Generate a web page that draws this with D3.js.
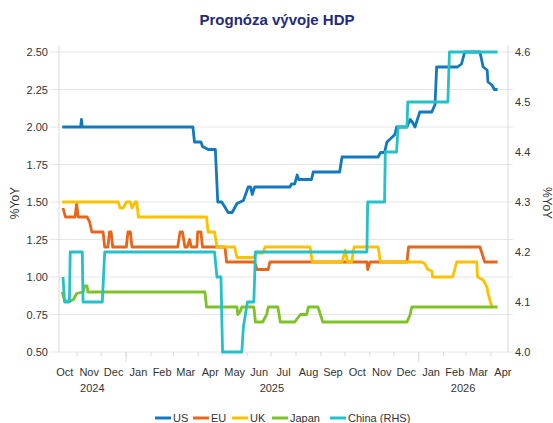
<html>
<head>
<meta charset="utf-8">
<title>Prognóza vývoje HDP</title>
<script src="https://d3js.org/d3.v7.min.js"></script>
<style>
	body { margin: 0; background: #fff; }
	svg { font-family: "Liberation Sans", Arial, sans-serif; }
	.axis path { display: none; }
	.axis line { stroke: #d9d9d9; }
	.axis text { fill: #333; font-size: 11px; }
</style>
</head>
<body>
<div id="chart"></div>
<script type="text/javascript">
// series: [date, value]
var us = [
	["2024-10-14",2.00],["2024-11-06",2.00],["2024-11-07",2.05],["2024-11-08",2.00],
	["2025-03-26",2.00],["2025-03-28",1.90],["2025-04-05",1.90],["2025-04-07",1.87],
	["2025-04-14",1.85],["2025-04-23",1.85],["2025-04-26",1.50],["2025-05-01",1.50],
	["2025-05-09",1.43],["2025-05-14",1.43],["2025-05-20",1.49],["2025-05-28",1.51],
	["2025-06-03",1.60],["2025-06-06",1.60],["2025-06-08",1.55],["2025-06-11",1.60],
	["2025-07-25",1.60],["2025-07-27",1.62],["2025-07-31",1.62],["2025-08-03",1.68],
	["2025-08-05",1.65],["2025-08-21",1.65],["2025-08-23",1.70],["2025-09-25",1.70],
	["2025-09-28",1.80],["2025-11-12",1.80],["2025-11-15",1.83],["2025-11-20",1.83],
	["2025-11-23",1.90],["2025-11-29",1.93],["2025-12-03",1.95],["2025-12-05",2.00],
	["2025-12-18",2.00],["2025-12-22",2.05],["2025-12-25",2.03],["2025-12-28",2.00],
	["2026-01-03",2.10],["2026-01-18",2.10],["2026-01-22",2.15],["2026-01-24",2.40],
	["2026-02-19",2.40],["2026-02-24",2.42],["2026-02-28",2.50],["2026-03-19",2.50],
	["2026-03-23",2.40],["2026-03-28",2.38],["2026-03-29",2.30],["2026-04-03",2.28],
	["2026-04-06",2.25],["2026-04-10",2.25]
];
var eu = [
	["2024-10-15",1.46],["2024-10-18",1.40],["2024-10-30",1.40],["2024-11-01",1.49],
	["2024-11-03",1.40],["2024-11-14",1.40],["2024-11-17",1.37],["2024-11-20",1.30],
	["2024-12-04",1.30],["2024-12-06",1.20],["2024-12-10",1.20],["2024-12-12",1.30],
	["2024-12-14",1.30],["2024-12-16",1.20],["2025-01-02",1.20],["2025-01-04",1.30],
	["2025-01-07",1.30],["2025-01-09",1.20],["2025-03-07",1.20],["2025-03-10",1.30],
	["2025-03-13",1.30],["2025-03-16",1.20],["2025-03-19",1.20],["2025-03-22",1.25],
	["2025-03-24",1.20],["2025-03-31",1.20],["2025-04-01",1.30],["2025-04-05",1.30],
	["2025-04-07",1.20],["2025-05-05",1.20],["2025-05-07",1.10],["2025-06-11",1.10],
	["2025-06-14",1.05],["2025-06-28",1.05],["2025-06-30",1.10],["2025-10-29",1.10],
	["2025-10-30",1.05],["2025-11-02",1.10],["2025-12-18",1.10],["2025-12-20",1.20],
	["2026-03-19",1.20],["2026-03-22",1.15],["2026-03-25",1.10],["2026-04-10",1.10]
];
var uk = [
	["2024-10-14",1.50],["2024-12-23",1.50],["2024-12-25",1.46],["2024-12-29",1.46],
	["2025-01-02",1.50],["2025-01-07",1.50],["2025-01-09",1.46],["2025-01-13",1.50],
	["2025-01-15",1.50],["2025-01-17",1.40],["2025-04-12",1.40],["2025-04-14",1.30],
	["2025-04-22",1.30],["2025-04-25",1.20],["2025-05-17",1.20],["2025-05-20",1.13],
	["2025-06-10",1.13],["2025-06-13",1.16],["2025-06-21",1.16],["2025-06-24",1.20],
	["2025-08-19",1.20],["2025-08-22",1.10],["2025-09-28",1.10],["2025-10-02",1.18],
	["2025-10-05",1.10],["2025-10-10",1.10],["2025-10-13",1.20],["2025-11-12",1.20],
	["2025-11-15",1.10],["2026-01-05",1.10],["2026-01-09",1.09],["2026-01-13",1.05],
	["2026-01-18",1.04],["2026-01-19",1.00],["2026-02-13",1.00],["2026-02-18",1.10],
	["2026-03-15",1.10],["2026-03-16",1.00],["2026-03-23",0.98],["2026-03-28",0.93],
	["2026-03-29",0.89],["2026-04-03",0.80]
];
var japan = [
	["2024-10-14",0.90],["2024-10-17",0.84],["2024-10-24",0.84],["2024-10-28",0.85],
	["2024-11-01",0.89],["2024-11-09",0.90],["2024-11-11",0.94],["2024-11-14",0.94],
	["2024-11-15",0.90],["2025-04-10",0.90],["2025-04-12",0.80],["2025-05-20",0.80],
	["2025-05-21",0.75],["2025-05-24",0.77],["2025-05-26",0.80],["2025-06-10",0.80],
	["2025-06-12",0.70],["2025-06-21",0.70],["2025-06-26",0.75],["2025-06-28",0.80],
	["2025-07-10",0.80],["2025-07-13",0.70],["2025-07-31",0.70],["2025-08-07",0.75],
	["2025-08-15",0.75],["2025-08-17",0.80],["2025-08-29",0.80],["2025-09-01",0.75],
	["2025-09-04",0.70],["2025-12-18",0.70],["2025-12-22",0.75],["2025-12-24",0.80],
	["2026-04-10",0.80]
];
// China on the right-hand scale
var china = [
	["2024-10-15",4.15],["2024-10-17",4.10],["2024-10-23",4.10],["2024-10-24",4.20],
	["2024-11-08",4.20],["2024-11-09",4.10],["2024-12-03",4.10],["2024-12-06",4.20],
	["2025-04-22",4.20],["2025-04-25",4.15],["2025-04-30",4.15],["2025-05-02",4.00],
	["2025-05-26",4.00],["2025-05-28",4.05],["2025-06-02",4.10],["2025-06-10",4.10],
	["2025-06-12",4.20],["2025-10-29",4.20],["2025-10-30",4.30],["2025-11-20",4.30],
	["2025-11-21",4.40],["2025-12-05",4.40],["2025-12-07",4.45],["2025-12-18",4.45],
	["2025-12-19",4.50],["2026-02-07",4.50],["2026-02-09",4.60],["2026-04-10",4.60]
];

var leftTicks = [0.50, 0.75, 1.00, 1.25, 1.50, 1.75, 2.00, 2.25, 2.50];
var rightTicks = [4.0, 4.1, 4.2, 4.3, 4.4, 4.5, 4.6];
var seriesNames = ["US", "EU", "UK", "Japan", "China (RHS)"];
var seriesColors = ["#1279c0", "#e8661c", "#ffc000", "#7dc226", "#22c2c8"];

var parse = d3.timeParse("%Y-%m-%d");
var width = 553, height = 423;
var pLeft = 59, pRight = 508, pTop = 52, pBottom = 352;

var svg = d3.select("#chart").append("svg")
	.attr("width", width)
	.attr("height", height);

var x = d3.scaleTime()
	.domain([parse("2024-10-10"), parse("2026-04-23")])
	.range([pLeft, pRight]);
var yL = d3.scaleLinear().domain([0.5, 2.5]).range([pBottom, pTop]);
var yR = d3.scaleLinear().domain([4.0, 4.6]).range([pBottom, pTop]);

// title
svg.append("text")
	.attr("x", 277).attr("y", 25)
	.attr("text-anchor", "middle")
	.style("font-size", "15px")
	.style("font-weight", "bold")
	.style("fill", "#1f2a80")
	.text("Prognóza vývoje HDP");

// gridlines
svg.append("g").selectAll("line")
	.data(leftTicks)
	.enter().append("line")
	.attr("x1", 50).attr("x2", 513)
	.attr("y1", function(d) { return yL(d); })
	.attr("y2", function(d) { return yL(d); })
	.style("stroke", "#e6e6e6");

// vertical axis lines
svg.append("line").attr("x1", pLeft).attr("x2", pLeft).attr("y1", 45).attr("y2", pBottom)
	.style("stroke", "#d9d9d9");
svg.append("line").attr("x1", pRight).attr("x2", pRight).attr("y1", 45).attr("y2", pBottom)
	.style("stroke", "#d9d9d9");

svg.append("g").attr("class", "axis")
	.attr("transform", "translate(" + pLeft + ",0)")
	.call(d3.axisLeft(yL).tickValues(leftTicks).tickFormat(d3.format(".2f")).tickSize(0).tickPadding(11));

svg.append("g").attr("class", "axis")
	.attr("transform", "translate(" + pRight + ",0)")
	.call(d3.axisRight(yR).tickValues(rightTicks).tickFormat(d3.format(".1f")).tickSize(0).tickPadding(7));

// x ticks at month starts, longer at year start
var monthStarts = d3.timeMonth.range(parse("2024-11-01"), parse("2026-04-02"));
svg.append("g").attr("class", "axis")
	.attr("transform", "translate(0," + pBottom + ")")
	.call(d3.axisBottom(x).tickValues(monthStarts).tickFormat("").tickSizeOuter(0)
		.tickSize(4));
svg.append("g").attr("class", "axis")
	.attr("transform", "translate(0," + pBottom + ")")
	.call(d3.axisBottom(x).tickValues([parse("2025-01-01"), parse("2026-01-01")]).tickFormat("").tickSize(10));

// month labels at mid-month
var months = d3.timeMonth.range(parse("2024-10-01"), parse("2026-04-02"));
var mids = months.map(function(m) {
	return new Date((m.getTime() + d3.timeMonth.offset(m, 1).getTime()) / 2);
});
svg.append("g").attr("class", "axis")
	.attr("transform", "translate(0," + pBottom + ")")
	.call(d3.axisBottom(x).tickValues(mids).tickFormat(d3.timeFormat("%b")).tickSize(0).tickPadding(16));

// year labels centred on the visible part of each year
var xd = x.domain();
var years = [2024, 2025, 2026];
svg.append("g").selectAll("text")
	.data(years)
	.enter().append("text")
	.attr("x", function(d) {
		var a = new Date(Math.max(new Date(d, 0, 1), xd[0]));
		var b = new Date(Math.min(new Date(d + 1, 0, 1), xd[1]));
		return (x(a) + x(b)) / 2;
	})
	.attr("y", pBottom + 40)
	.attr("text-anchor", "middle")
	.style("font-size", "11px")
	.style("fill", "#333")
	.text(function(d) { return d; });

// axis titles
svg.append("text")
	.attr("transform", "translate(19,203) rotate(-90)")
	.attr("text-anchor", "middle")
	.style("font-size", "12px").style("fill", "#333")
	.text("%YoY");
svg.append("text")
	.attr("transform", "translate(543,203) rotate(90)")
	.attr("text-anchor", "middle")
	.style("font-size", "12px").style("fill", "#333")
	.text("%YoY");

// lines
var lineL = d3.line()
	.x(function(d) { return x(parse(d[0])); })
	.y(function(d) { return yL(d[1]); });
var lineR = d3.line()
	.x(function(d) { return x(parse(d[0])); })
	.y(function(d) { return yR(d[1]); });

var all = [us, eu, uk, japan];
all.forEach(function(s, i) {
	svg.append("path")
		.datum(s)
		.attr("d", lineL)
		.style("fill", "none")
		.style("stroke", seriesColors[i])
		.style("stroke-width", 2.8)
		.style("stroke-linejoin", "round");
});
svg.append("path")
	.datum(china)
	.attr("d", lineR)
	.style("fill", "none")
	.style("stroke", seriesColors[4])
	.style("stroke-width", 2.8)
	.style("stroke-linejoin", "round");

// legend
var legendX = [155, 193, 232, 272, 330];
var legend = svg.append("g").selectAll("g")
	.data(seriesNames)
	.enter().append("g")
	.attr("transform", function(d, i) { return "translate(" + legendX[i] + ",418)"; });
legend.append("line")
	.attr("x1", 0).attr("x2", 16)
	.style("stroke", function(d, i) { return seriesColors[i]; })
	.style("stroke-width", 3);
legend.append("text")
	.attr("x", 18).attr("y", 4)
	.style("font-size", "11px")
	.style("fill", "#333")
	.text(function(d) { return d; });
</script>
</body>
</html>
